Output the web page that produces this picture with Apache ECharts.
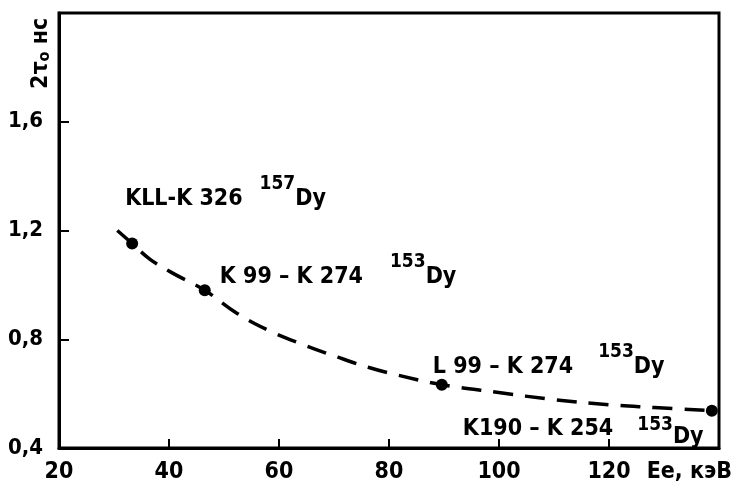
<!DOCTYPE html>
<html><head><meta charset="utf-8">
<script src="https://cdn.jsdelivr.net/npm/echarts@6/dist/echarts.min.js"></script>
<style>html,body{margin:0;padding:0;background:#fff}#c{width:737px;height:491px}</style>
</head><body><div id="c"></div>
<script>
// Measured points: energy Ee (keV) vs 2τ0 (ns)
var pointE = [33.3, 46.5, 89.6, 138.7];
var pointT = [1.152, 0.98, 0.633, 0.537];
var pointText = ['KLL-K 326', 'K 99 – K 274', 'L 99 – K 274', 'K190 – K 254'];
var pointIso = ['157', '153', '153', '153'];
// Hand-drawn dashed trend curve
var curveE = [30.6, 33.3, 36.5, 40.5, 46.5, 52.4, 58.4, 64.7, 70.7, 76.2, 81.6, 89.6, 99.6, 110, 120, 128.2, 138.7];
var curveT = [1.20, 1.152, 1.095, 1.045, 0.98, 0.895, 0.83, 0.778, 0.734, 0.697, 0.668, 0.633, 0.605, 0.578, 0.559, 0.549, 0.537];
var xTicks = [20, 40, 60, 80, 100, 120];
var yTicks = [0.4, 0.8, 1.2, 1.6];

var FONT = '"DejaVu Sans Condensed", "DejaVu Sans", sans-serif';
var chart = echarts.init(document.getElementById('c'));
var curve = curveE.map(function (e, i) { return [e, curveT[i]]; });
var pts = pointE.map(function (e, i) { return [e, pointT[i]]; });

var main = {fontFamily: FONT, fontSize: 23, fontWeight: 'bold', color: '#000', opacity: 1};
function st(extra) { var o = {}; for (var k in main) o[k] = main[k]; for (var k2 in extra) o[k2] = extra[k2]; return o; }
var rich = {
  m: st({lineHeight: 20, verticalAlign: 'bottom'}),
  s: st({fontSize: 19, lineHeight: 20, verticalAlign: 'top'}),
  d: st({lineHeight: 20, verticalAlign: 'bottom'}),
  g1: {width: 17, lineHeight: 36}, g2: {width: 27, lineHeight: 36}, g3: {width: 25, lineHeight: 36}, g4: {width: 24, lineHeight: 40},
  m4: st({lineHeight: 20, verticalAlign: 'middle'}),
  s4: st({fontSize: 19, lineHeight: 20, verticalAlign: 'middle', padding: [0, 0, 8, 0]}),
  d4: st({lineHeight: 20, verticalAlign: 'bottom'})
};
var offsets = [[-1, -63], [21, -32], [-3, -36], [-243, 4]];
var labelData = pts.map(function (p, i) {
  var txt = i < 3
    ? '{m|' + pointText[i] + '}{g' + (i + 1) + '| }{s|' + pointIso[i] + '}{d|Dy}'
    : '{m4|' + pointText[i] + '}{g4| }{s4|' + pointIso[i] + '}{d4|Dy}';
  return {value: p, label: {show: true, position: offsets[i], formatter: txt, align: 'left', verticalAlign: 'top', color: '#000', opacity: 1, rich: rich}};
});

chart.setOption({
  animation: false,
  backgroundColor: '#fff',
  grid: {left: 59, right: 18, top: 13, bottom: 43, show: true, borderColor: '#000', borderWidth: 3, backgroundColor: 'transparent'},
  xAxis: {
    type: 'value', min: 20, max: 140, interval: 20,
    axisLine: {lineStyle: {color: '#000', width: 3}},
    axisTick: {inside: true, length: 9, lineStyle: {color: '#000', width: 2}},
    splitLine: {show: false},
    axisLabel: {margin: 13, color: '#000', fontFamily: FONT, fontSize: 23, fontWeight: 'bold',
      formatter: function (v) { return xTicks.indexOf(v) >= 0 ? String(v) : ''; }}
  },
  yAxis: {
    type: 'value', min: 0.4, max: 2.0, interval: 0.4,
    axisLine: {lineStyle: {color: '#000', width: 3}},
    axisTick: {inside: true, length: 10, lineStyle: {color: '#000', width: 2}},
    splitLine: {show: false},
    axisLabel: {margin: 16, color: '#000', fontFamily: FONT, fontSize: 22, fontWeight: 'bold',
      formatter: function (v) {
        var r = Math.round(v * 10) / 10;
        return yTicks.some(function (t) { return Math.abs(t - r) < 1e-6; }) ? r.toFixed(1).replace('.', ',') : '';
      }}
  },
  graphic: [
    {type: 'text', x: 27, y: 89, rotation: Math.PI / 2,
     style: {text: '{a|2τ}{o|o}{b| нс}', rich: {
       a: {fontFamily: FONT, fontSize: 23, fontWeight: 'bold', fill: '#000', verticalAlign: 'bottom', lineHeight: 26},
       o: {fontFamily: FONT, fontSize: 16, fontWeight: 'bold', fill: '#000', verticalAlign: 'bottom', lineHeight: 22},
       b: {fontFamily: FONT, fontSize: 23, fontWeight: 'bold', fill: '#000', verticalAlign: 'bottom', lineHeight: 26}}}},
    {type: 'text', right: 5, top: 461,
     style: {text: 'Ee, кэВ', fontFamily: FONT, fontSize: 23, fontWeight: 'bold', fill: '#000'}}
  ],
  series: [
    {type: 'line', data: curve, smooth: 0.4, showSymbol: false, silent: true,
     lineStyle: {color: '#000', width: 3.5, type: [20, 12]}},
    {type: 'scatter', data: labelData, symbolSize: 12, itemStyle: {color: '#000', opacity: 1}}
  ]
});
</script></body></html>
